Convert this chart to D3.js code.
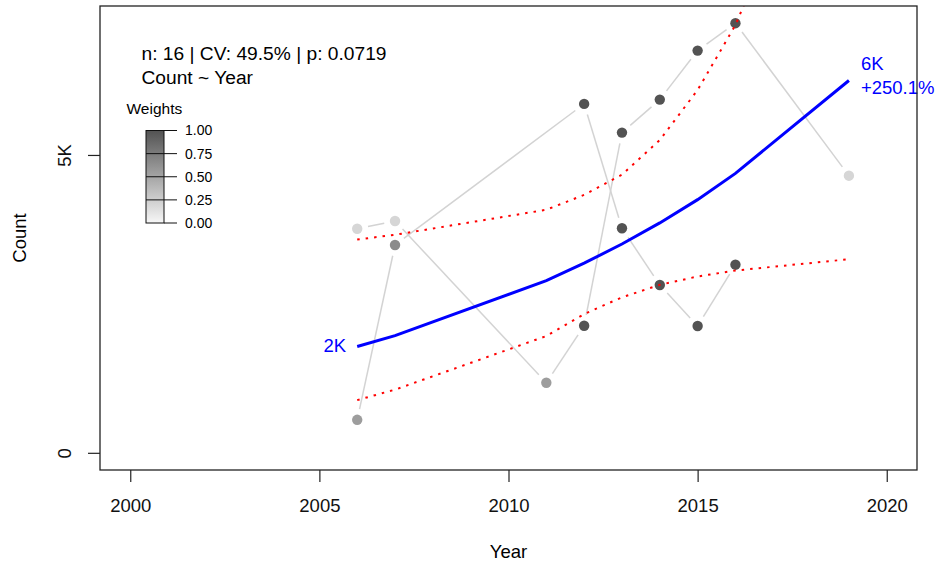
<!DOCTYPE html>
<html lang="en">
<head>
<meta charset="UTF-8">
<title>Count ~ Year</title>
<script src="https://cdn.jsdelivr.net/npm/d3@7"></script>
<style>
  body { margin: 0; background: #fff; }
  svg { display: block; font-family: "Liberation Sans", Arial, Helvetica, sans-serif; }
</style>
</head>
<body>
<script>
// observations, two runs of points joined by grey lines
var yearsA   = [2006, 2007, 2011, 2012, 2013, 2014, 2015, 2016, 2019];
var countsA  = [3762, 3892, 1176, 2133, 5375, 5929, 6752, 7212, 4652];
var weightsA = [0.2, 0.2, 0.55, 1, 1, 1, 1, 1, 0.2];

var yearsB   = [2006, 2007, 2012, 2013, 2014, 2015, 2016];
var countsB  = [554, 3488, 5857, 3769, 2817, 2128, 3158];
var weightsB = [0.55, 0.65, 1, 1, 1, 1, 1];

// fitted curve and its band
var fitYears = [2006, 2007, 2011, 2012, 2013, 2014, 2015, 2016, 2019];
var fitMid   = [1785, 1966, 2890, 3183, 3505, 3859, 4250, 4690, 6250];
var fitLow   = [885, 1060, 1960, 2330, 2610, 2820, 2960, 3060, 3250];
var fitHigh  = [3580, 3660, 4080, 4330, 4670, 5250, 6090, 7180, 11700];

var xTicks = [2000, 2005, 2010, 2015, 2020];
var yTicks = [0, 5000];
var legendTicks = [0, 0.25, 0.5, 0.75, 1];

var statsText = "n: 16 | CV: 49.5% | p: 0.0719";
var formulaText = "Count ~ Year";

var w = 938, h = 567;
// plot box (note: "top" is taken by window.top, so use plot* names)
var plotL = 100, plotR = 917, plotT = 6, plotB = 470;

var svg = d3.select("body").append("svg")
  .attr("width", w)
  .attr("height", h);

// R style axes: limits padded 4% on each side
var xlim = [2000, 2020];
var ylim = [0, d3.max(countsA.concat(countsB))];
var xpad = (xlim[1] - xlim[0]) * 0.04;
var ypad = (ylim[1] - ylim[0]) * 0.04;

var xScale = d3.scaleLinear()
  .domain([xlim[0] - xpad, xlim[1] + xpad])
  .range([plotL, plotR]);

var yScale = d3.scaleLinear()
  .domain([ylim[0] - ypad, ylim[1] + ypad])
  .range([plotB, plotT]);

var grey = d3.scaleLinear()
  .domain([0, 1])
  .range(["#f7f7f7", "#535353"]);

svg.append("clipPath").attr("id", "plotclip")
  .append("rect")
  .attr("x", plotL).attr("y", plotT)
  .attr("width", plotR - plotL).attr("height", plotB - plotT);

var plot = svg.append("g").attr("clip-path", "url(#plotclip)");

// grey connecting lines, with a gap around each point (type = "b")
function drawSeries(years, counts, weights) {
  var pts = years.map(function(d, i) {
    return { x: xScale(d), y: yScale(counts[i]), wt: weights[i] };
  });
  var gap = 11;
  var segs = d3.pairs(pts);
  plot.selectAll(null)
    .data(segs)
    .enter()
    .append("line")
    .each(function(p) {
      var dx = p[1].x - p[0].x, dy = p[1].y - p[0].y;
      var len = Math.sqrt(dx * dx + dy * dy);
      var ux = dx / len, uy = dy / len;
      d3.select(this)
        .attr("x1", p[0].x + ux * gap).attr("y1", p[0].y + uy * gap)
        .attr("x2", p[1].x - ux * gap).attr("y2", p[1].y - uy * gap);
    })
    .attr("stroke", "#d3d3d3")
    .attr("stroke-width", 1.5);
  return pts;
}

var ptsA = drawSeries(yearsA, countsA, weightsA);
var ptsB = drawSeries(yearsB, countsB, weightsB);

plot.selectAll("circle")
  .data(ptsA.concat(ptsB))
  .enter()
  .append("circle")
  .attr("cx", d => d.x)
  .attr("cy", d => d.y)
  .attr("r", 5.2)
  .attr("fill", d => grey(d.wt));

// band lines
var line = d3.line()
  .x((d, i) => xScale(fitYears[i]))
  .y(d => yScale(d));

[fitLow, fitHigh].forEach(function(band) {
  plot.append("path")
    .attr("d", line(band))
    .attr("fill", "none")
    .attr("stroke", "#ff0000")
    .attr("stroke-width", 2)
    .attr("stroke-dasharray", "2.5,6");
});

plot.append("path")
  .attr("d", line(fitMid))
  .attr("fill", "none")
  .attr("stroke", "#0000ff")
  .attr("stroke-width", 3);

// start / end labels of the fit
var first = fitMid[0], last = fitMid[fitMid.length - 1];
var kfmt = v => Math.round(v / 1000) + "K";
var change = (last / first - 1) * 100;

svg.append("text")
  .attr("x", xScale(fitYears[0]) - 11)
  .attr("y", yScale(first) + 6)
  .attr("text-anchor", "end")
  .attr("font-size", "18.5px")
  .attr("fill", "#0000ff")
  .text(kfmt(first));

svg.append("text")
  .attr("x", xScale(fitYears[fitYears.length - 1]) + 12)
  .attr("y", yScale(last) - 10)
  .attr("font-size", "18.5px")
  .attr("fill", "#0000ff")
  .text(kfmt(last));

svg.append("text")
  .attr("x", xScale(fitYears[fitYears.length - 1]) + 12)
  .attr("y", yScale(last) + 13.5)
  .attr("font-size", "18.5px")
  .attr("fill", "#0000ff")
  .text("+" + change.toFixed(1) + "%");

// frame
svg.append("rect")
  .attr("x", plotL).attr("y", plotT)
  .attr("width", plotR - plotL).attr("height", plotB - plotT)
  .attr("fill", "none")
  .attr("stroke", "#222")
  .attr("stroke-width", 1.3);

// axes
var xAxis = d3.axisBottom(xScale)
  .tickValues(xTicks)
  .tickSize(12)
  .tickPadding(17)
  .tickFormat(d3.format("d"));

var gx = svg.append("g")
  .attr("transform", "translate(0," + plotB + ")")
  .call(xAxis);
gx.select(".domain").remove();
gx.selectAll("line").attr("stroke", "#222").attr("stroke-width", 1.2);
gx.selectAll("text").attr("font-size", "18.5px").attr("fill", "#111")
  .attr("font-family", "\"Liberation Sans\", Arial, sans-serif");

var yAxis = d3.axisLeft(yScale)
  .tickValues(yTicks)
  .tickSize(12)
  .tickFormat(d => d === 0 ? "0" : kfmt(d));

var gy = svg.append("g")
  .attr("transform", "translate(" + plotL + ",0)")
  .call(yAxis);
gy.select(".domain").remove();
gy.selectAll("line").attr("stroke", "#222").attr("stroke-width", 1.2);
gy.selectAll("text")
  .attr("x", 0).attr("y", 0)
  .attr("dy", "0.35em")
  .attr("text-anchor", "middle")
  .attr("transform", "translate(-35,0) rotate(-90)")
  .attr("font-size", "18.5px").attr("fill", "#111")
  .attr("font-family", "\"Liberation Sans\", Arial, sans-serif");

// axis titles
svg.append("text")
  .attr("x", (plotL + plotR) / 2)
  .attr("y", 558)
  .attr("text-anchor", "middle")
  .attr("font-size", "18.5px")
  .text("Year");

svg.append("text")
  .attr("transform", "translate(20," + (plotT + plotB) / 2 + ") rotate(-90)")
  .attr("dy", "0.35em")
  .attr("text-anchor", "middle")
  .attr("font-size", "18.5px")
  .text("Count");

// stats text
svg.append("text").attr("x", 141.5).attr("y", 60)
  .attr("font-size", "19.2px").text(statsText);
svg.append("text").attr("x", 141.5).attr("y", 84)
  .attr("font-size", "19.2px").text(formulaText);

// weights legend
var lx = 146, lw = 18;
var lScale = d3.scaleLinear().domain([0, 1]).range([223, 130.5]);

svg.append("text").attr("x", 126.5).attr("y", 114)
  .attr("font-size", "15.5px").text("Weights");

var grad = svg.append("defs").append("linearGradient")
  .attr("id", "wgrad")
  .attr("x1", 0).attr("y1", 1).attr("x2", 0).attr("y2", 0);
grad.selectAll("stop")
  .data([0, 1])
  .enter()
  .append("stop")
  .attr("offset", d => d)
  .attr("stop-color", d => grey(d));

svg.append("rect")
  .attr("x", lx).attr("y", lScale(1))
  .attr("width", lw).attr("height", lScale(0) - lScale(1))
  .attr("fill", "url(#wgrad)")
  .attr("stroke", "#111")
  .attr("stroke-width", 1);

var lg = svg.append("g");
lg.selectAll("line")
  .data(legendTicks)
  .enter()
  .append("line")
  .attr("x1", d => (d === 0 || d === 1) ? lx + lw : lx)
  .attr("x2", lx + lw + 13)
  .attr("y1", d => lScale(d))
  .attr("y2", d => lScale(d))
  .attr("stroke", "#111")
  .attr("stroke-width", 1);

lg.selectAll("text")
  .data(legendTicks)
  .enter()
  .append("text")
  .attr("x", lx + lw + 21)
  .attr("y", d => lScale(d))
  .attr("dy", "0.35em")
  .attr("font-size", "14px")
  .text(d => d3.format(".2f")(d));
</script>
</body>
</html>
